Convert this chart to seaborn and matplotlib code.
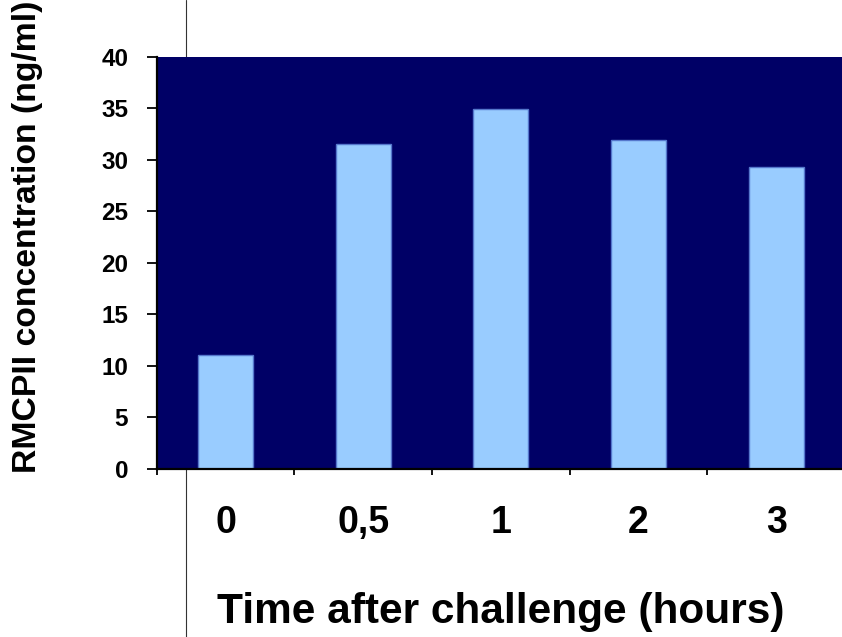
import matplotlib
matplotlib.use("Agg")
import matplotlib.pyplot as plt
from matplotlib.lines import Line2D
import seaborn as sns
import pandas as pd

categories = ["0", "0,5", "1", "2", "3"]
values = [11.1, 31.5, 34.9, 31.9, 29.3]
yticks = [0, 5, 10, 15, 20, 25, 30, 35, 40]

sns.set_theme(style="white")
plt.rcParams["font.family"] = ["Liberation Sans", "DejaVu Sans"]
plt.rcParams["font.weight"] = "bold"
for k in ["text.color", "axes.labelcolor", "xtick.color", "ytick.color"]:
    plt.rcParams[k] = "black"

fig = plt.figure(figsize=(8.42, 6.37), dpi=100)
ax = fig.add_axes([156.7 / 842, (637 - 469) / 637, (845 - 156.7) / 842, (469 - 56.7) / 637])
ax.set_facecolor("#000066")

df = pd.DataFrame({"time": categories, "conc": values})
sns.barplot(data=df, x="time", y="conc", ax=ax, color="#99CCFF", saturation=1,
            width=0.4, edgecolor="#5577CC", linewidth=1.0, errorbar=None)

ax.set_xlim(-0.5, 4.5)
ax.set_ylim(0, 40)
ax.set_yticks(yticks)
ax.set_yticklabels([str(t) for t in yticks], fontsize=17.5, fontweight="bold", color="black")
ax.tick_params(axis="y", direction="out", length=7.5, width=1.3, color="black", pad=13, left=True)

ax.set_xticks(range(len(categories)))
ax.set_xticklabels(categories, fontsize=27, fontweight="bold", color="black")
ax.tick_params(axis="x", which="major", length=0, pad=26)
ax.set_xticks([i - 0.5 for i in range(len(categories) + 1)], minor=True)
ax.tick_params(axis="x", which="minor", direction="out", length=4, width=1.3, color="black", bottom=True)
ax.grid(False)

for s in ["top", "right"]:
    ax.spines[s].set_visible(False)
for s in ["left", "bottom"]:
    ax.spines[s].set_color("black")
    ax.spines[s].set_linewidth(1.6)

ax.set_xlabel("Time after challenge (hours)", fontsize=30.5, fontweight="bold", color="black")
ax.set_ylabel("RMCPII concentration (ng/ml)", fontsize=24.3, fontweight="bold", color="black")
ax.xaxis.set_label_coords((501 - 156.7) / (845 - 156.7), -(612 - 469) / (469 - 56.7))
ax.yaxis.set_label_coords(-(156.7 - 28) / (845 - 156.7), (469 - 237) / (469 - 56.7))
ax.xaxis.label.set_va("center")
ax.yaxis.label.set_va("center")

fig.add_artist(Line2D([186 / 842, 186 / 842], [0, 1], transform=fig.transFigure,
                      color="#333333", linewidth=0.8, zorder=-1))

fig.savefig("out.png", dpi=100)
